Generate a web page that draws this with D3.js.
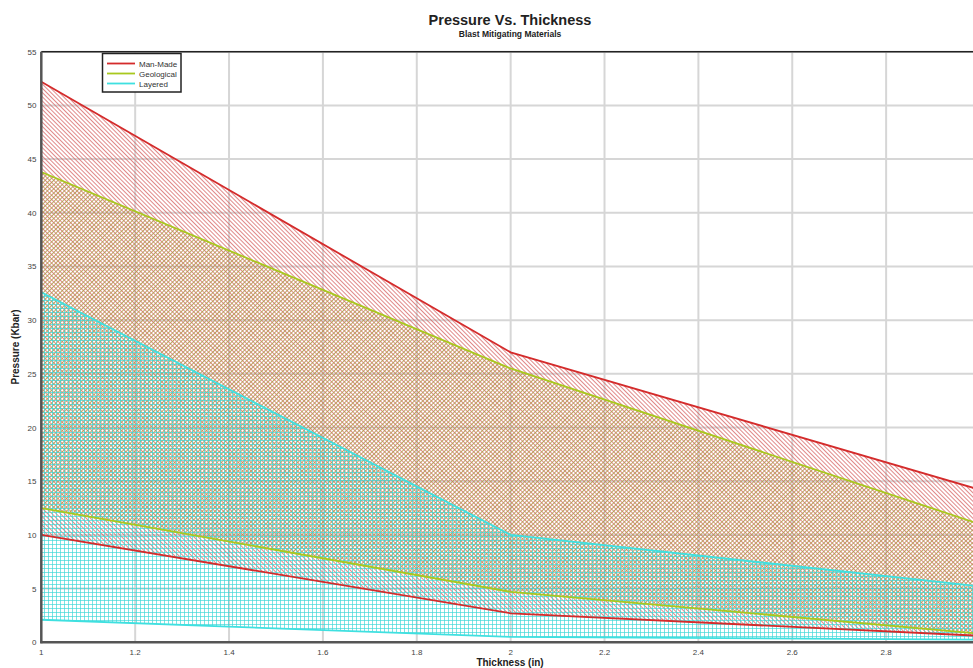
<!DOCTYPE html>
<html>
<head>
<meta charset="utf-8">
<script src="https://cdn.jsdelivr.net/npm/d3@7/dist/d3.min.js"></script>
<style>
  html, body { margin: 0; padding: 0; background: #fff; }
  svg { display: block; font-family: "Liberation Sans", Arial, sans-serif; }
</style>
</head>
<body>
<svg id="chart" width="973" height="668"></svg>
<script>
// Thickness (in) at which each pressure range was measured
const thickness = [1, 2, 3];

// Pressure ranges (Kbar) for each class of blast mitigating material
const manMadeHigh    = [52.2, 27.0, 14.2];
const manMadeLow     = [10.0, 2.7, 0.6];
const geologicalHigh = [43.8, 25.5, 11.0];
const geologicalLow  = [12.5, 4.7, 0.8];
const layeredHigh    = [32.6, 10.0, 5.2];
const layeredLow     = [2.1, 0.5, 0.25];

// Gridline positions; the labelled ones stop at 2.8 because the plot runs past the page edge
const xGrid = [1.2, 1.4, 1.6, 1.8, 2, 2.2, 2.4, 2.6, 2.8];
const xTickLabels = [1, 1.2, 1.4, 1.6, 1.8, 2, 2.2, 2.4, 2.6, 2.8];
const yTicks = [0, 5, 10, 15, 20, 25, 30, 35, 40, 45, 50, 55];

const seriesNames = ["Man-Made", "Geological", "Layered"];

const series = [
  { name: seriesNames[0], hi: manMadeHigh, lo: manMadeLow, color: "#d42b2b", fill: "url(#hatchRed)" },
  { name: seriesNames[1], hi: geologicalHigh, lo: geologicalLow, color: "#a9c81e", fill: "url(#hatchGeo)" },
  { name: seriesNames[2], hi: layeredHigh, lo: layeredLow, color: "#3fe0e0", fill: "url(#gridCyan)" }
];

const svg = d3.select("#chart");
const plotLeft = 41.3, plotRight = 980, plotTop = 51.7, plotBottom = 642.3;

const x = d3.scaleLinear().domain([1, 3]).range([plotLeft, plotRight]);
const y = d3.scaleLinear().domain([0, 55]).range([plotBottom, plotTop]);

// Fill patterns
const defs = svg.append("defs");
const hr = defs.append("pattern").attr("id", "hatchRed")
  .attr("patternUnits", "userSpaceOnUse").attr("width", 3).attr("height", 10)
  .attr("patternTransform", "rotate(-45)");
hr.append("line").attr("x1", 0.5).attr("y1", 0).attr("x2", 0.5).attr("y2", 10)
  .attr("stroke", "#d45a5a").attr("stroke-width", 0.9).attr("stroke-opacity", 0.8);

const hg = defs.append("pattern").attr("id", "hatchGeo")
  .attr("patternUnits", "userSpaceOnUse").attr("width", 3).attr("height", 10)
  .attr("patternTransform", "rotate(45)");
hg.append("line").attr("x1", 0.5).attr("y1", 0).attr("x2", 0.5).attr("y2", 10)
  .attr("stroke", "#b09a48").attr("stroke-width", 1).attr("stroke-opacity", 0.85);

const gc = defs.append("pattern").attr("id", "gridCyan")
  .attr("patternUnits", "userSpaceOnUse").attr("width", 4).attr("height", 4);
gc.append("path").attr("d", "M0.5,0 V4 M0,0.5 H4")
  .attr("stroke", "#3cd6d6").attr("stroke-width", 0.9).attr("stroke-opacity", 0.75).attr("fill", "none");

// Grid
const grid = svg.append("g");
grid.selectAll("line.gx").data(xGrid).join("line")
  .attr("x1", d => x(d)).attr("x2", d => x(d)).attr("y1", plotTop).attr("y2", plotBottom)
  .attr("stroke", "#d6d6d6").attr("stroke-width", 2);
grid.selectAll("line.gy").data(yTicks.slice(1)).join("line")
  .attr("x1", plotLeft).attr("x2", plotRight).attr("y1", d => y(d)).attr("y2", d => y(d))
  .attr("stroke", "#d6d6d6").attr("stroke-width", 2);

// Bands
const area = d3.area()
  .x((d, i) => x(thickness[i]))
  .y0(d => y(d[0])).y1(d => y(d[1]));
const line = d3.line().x((d, i) => x(thickness[i])).y(d => y(d));

series.forEach(s => {
  const pts = s.lo.map((v, i) => [v, s.hi[i]]);
  svg.append("path").attr("d", area(pts)).attr("fill", s.fill).attr("stroke", "none");
});
series.forEach(s => {
  [s.hi, s.lo].forEach(vals => {
    svg.append("path").attr("d", line(vals)).attr("fill", "none")
      .attr("stroke", s.color).attr("stroke-width", 1.8);
  });
});

// Frame
svg.append("line").attr("x1", plotLeft).attr("x2", plotRight).attr("y1", plotTop).attr("y2", plotTop)
  .attr("stroke", "#222").attr("stroke-width", 1.5);
svg.append("line").attr("x1", plotLeft).attr("x2", plotLeft).attr("y1", plotTop).attr("y2", plotBottom + 1)
  .attr("stroke", "#555").attr("stroke-width", 2.5);
svg.append("line").attr("x1", plotLeft - 1).attr("x2", plotRight).attr("y1", plotBottom).attr("y2", plotBottom)
  .attr("stroke", "#555").attr("stroke-width", 2.5);

// Tick labels
svg.append("g").selectAll("text").data(xTickLabels).join("text")
  .attr("x", d => x(d)).attr("y", 655).attr("text-anchor", "middle")
  .attr("font-size", 8).attr("fill", "#444").text(d => d3.format("")(d));
svg.append("g").selectAll("text").data(yTicks).join("text")
  .attr("x", 36.5).attr("y", d => y(d) + 3).attr("text-anchor", "end")
  .attr("font-size", 8).attr("fill", "#444").text(d => d);

// Titles
svg.append("text").attr("x", 510).attr("y", 25).attr("text-anchor", "middle")
  .attr("font-size", 14.5).attr("font-weight", "bold").attr("fill", "#222").text("Pressure Vs. Thickness");
svg.append("text").attr("x", 510).attr("y", 37).attr("text-anchor", "middle")
  .attr("font-size", 8.5).attr("font-weight", "bold").attr("fill", "#222").text("Blast Mitigating Materials");
svg.append("text").attr("x", 510).attr("y", 666).attr("text-anchor", "middle")
  .attr("font-size", 10).attr("font-weight", "bold").attr("fill", "#222").text("Thickness (in)");
svg.append("text").attr("transform", "translate(19,347) rotate(-90)").attr("text-anchor", "middle")
  .attr("font-size", 10).attr("font-weight", "bold").attr("fill", "#222").text("Pressure (Kbar)");

// Legend
const lg = svg.append("g");
lg.append("rect").attr("x", 102.5).attr("y", 53.5).attr("width", 78.5).attr("height", 38.5)
  .attr("fill", "#fff").attr("stroke", "#222").attr("stroke-width", 1.5);
series.forEach((s, i) => {
  const yy = 63.5 + i * 10;
  lg.append("line").attr("x1", 107).attr("x2", 135).attr("y1", yy).attr("y2", yy)
    .attr("stroke", s.color).attr("stroke-width", 1.8);
  lg.append("text").attr("x", 139).attr("y", yy + 3).attr("font-size", 8)
    .attr("fill", "#333").text(s.name);
});
</script>
</body>
</html>
